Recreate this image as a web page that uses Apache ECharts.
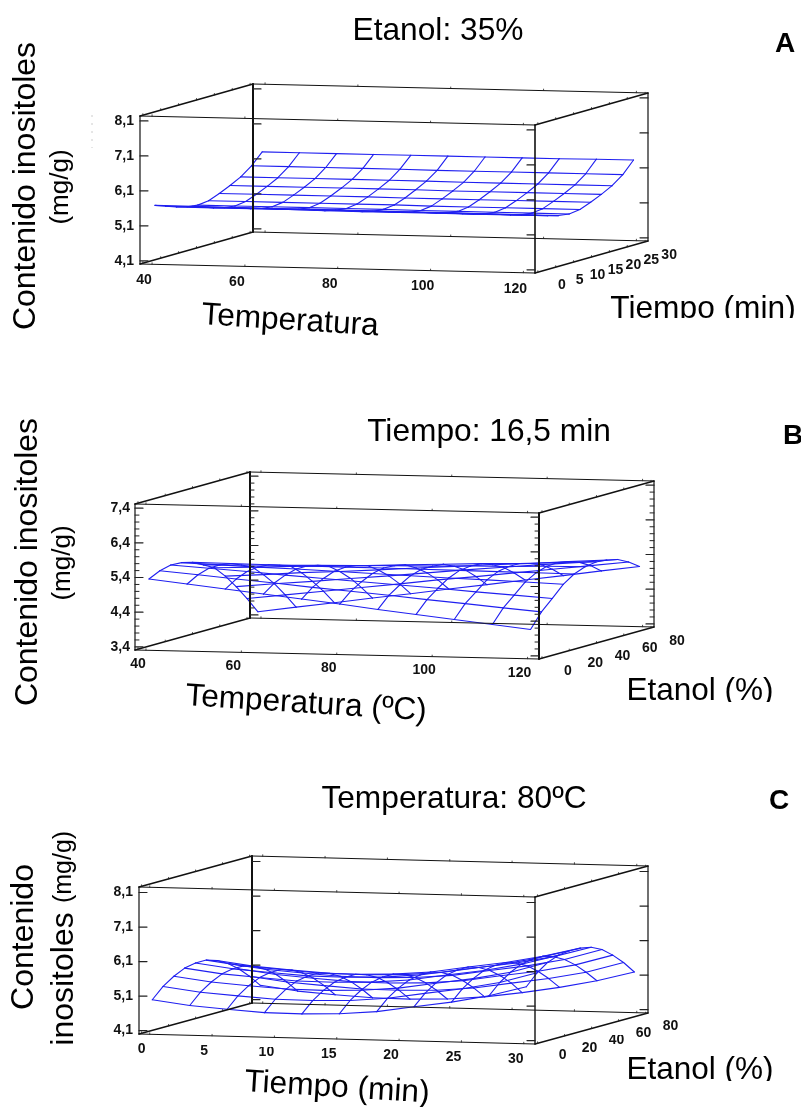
<!DOCTYPE html>
<html>
<head>
<meta charset="utf-8">
<style>html,body{margin:0;padding:0;background:#fff}#c{width:801px;height:1107px}</style>
<script src="https://cdn.jsdelivr.net/npm/echarts@6/dist/echarts.min.js"></script>
</head>
<body>
<div id="c"></div>
<script>
// ---------- data ----------
const tempNodes = [40,48,56,64,72,80,88,96,104,112,120];
const timeNodes = [0,3,6,9,12,15,18,21,24,27,30];
const etanolNodes = [0,8,16,24,32,40,48,56,64,72,80];

const tempTicks = [40,60,80,100,120];
const timeTicksA = [0,5,10,15,20,25,30];
const timeTicksC = [0,5,10,15,20,25,30];
const etanolTicks = [0,20,40,60,80];
const zTicksA = [4.1,5.1,6.1,7.1,8.1];
const zTicksB = [3.4,4.4,5.4,6.4,7.4];
const zTicksC = [4.1,5.1,6.1,7.1,8.1];
const zMinorB = [3.6,3.8,4.0,4.2,4.6,4.8,5.0,5.2,5.6,5.8,6.0,6.2,6.6,6.8,7.0,7.2];

// rows: depth axis (tiempo / etanol), columns: horizontal axis
const surfaceA = [
[5.67,5.67,5.66,5.66,5.66,5.66,5.65,5.65,5.65,5.64,5.64],
[5.56,5.56,5.56,5.55,5.55,5.55,5.55,5.55,5.54,5.54,5.54],
[5.45,5.45,5.45,5.45,5.44,5.44,5.44,5.44,5.44,5.44,5.44],
[5.37,5.37,5.37,5.37,5.37,5.36,5.36,5.36,5.36,5.36,5.36],
[5.33,5.33,5.33,5.33,5.33,5.33,5.32,5.32,5.32,5.32,5.32],
[5.37,5.37,5.37,5.37,5.37,5.37,5.36,5.36,5.36,5.36,5.36],
[5.49,5.49,5.49,5.49,5.49,5.48,5.48,5.48,5.48,5.48,5.48],
[5.63,5.63,5.63,5.63,5.63,5.63,5.62,5.62,5.62,5.62,5.62],
[5.79,5.79,5.79,5.79,5.79,5.79,5.78,5.78,5.78,5.78,5.78],
[6.02,6.02,6.02,6.02,6.02,6.01,6.01,6.01,6.01,6.01,6.01],
[6.33,6.33,6.33,6.33,6.33,6.33,6.33,6.33,6.33,6.34,6.34]
];
const surfaceB = [
[5.34,5.22,5.10,4.98,4.86,4.74,4.61,4.49,4.37,4.25,4.13],
[5.49,5.40,5.30,5.21,5.11,5.02,4.93,4.83,4.74,4.64,4.55],
[5.57,5.50,5.43,5.35,5.28,5.21,5.14,5.07,4.99,4.92,4.85],
[5.55,5.51,5.47,5.44,5.40,5.36,5.32,5.28,5.25,5.21,5.17],
[5.47,5.46,5.45,5.44,5.43,5.43,5.42,5.41,5.40,5.39,5.38],
[5.31,5.33,5.35,5.37,5.39,5.41,5.42,5.45,5.46,5.49,5.50],
[5.14,5.18,5.23,5.26,5.30,5.35,5.39,5.43,5.46,5.51,5.55],
[4.81,4.88,4.96,5.02,5.09,5.17,5.24,5.31,5.37,5.45,5.52],
[4.42,4.53,4.62,4.73,4.83,4.94,5.05,5.15,5.25,5.34,5.45],
[3.99,4.12,4.25,4.38,4.51,4.65,4.77,4.90,5.03,5.16,5.29],
[3.52,3.68,3.83,3.99,4.14,4.30,4.45,4.61,4.76,4.92,5.07]
];
const surfaceC = [
[4.98,4.84,4.76,4.69,4.68,4.71,4.80,4.97,5.13,5.34,5.63],
[5.28,5.14,5.06,4.99,4.98,5.01,5.10,5.27,5.43,5.64,5.95],
[5.49,5.35,5.27,5.20,5.19,5.22,5.31,5.48,5.64,5.85,6.17],
[5.64,5.50,5.42,5.35,5.34,5.37,5.46,5.63,5.79,6.00,6.29],
[5.70,5.56,5.48,5.41,5.40,5.43,5.52,5.69,5.85,6.06,6.33],
[5.70,5.56,5.48,5.41,5.40,5.43,5.52,5.69,5.85,6.06,6.32],
[5.60,5.46,5.38,5.31,5.30,5.33,5.42,5.59,5.75,5.96,6.26],
[5.43,5.29,5.21,5.14,5.13,5.16,5.25,5.42,5.58,5.79,6.11],
[5.19,5.05,4.97,4.90,4.89,4.92,5.01,5.18,5.34,5.55,5.86],
[4.89,4.75,4.67,4.60,4.59,4.62,4.71,4.88,5.04,5.25,5.56],
[4.54,4.40,4.32,4.26,4.25,4.28,4.37,4.52,4.70,4.92,5.20]
];

// ---------- panel set-up ----------
const FONT = '"Liberation Sans", Arial, sans-serif';
const BLUE = '#1f1ff0';
const panels = [
 {left:140,top:116,width:395,height:148,slope:9,depth:[113,-32],
  xRange:[37.4,122.5],dRange:[-0.8,30.8],zRange:[4.01,8.24],
  xNodes:tempNodes,dNodes:timeNodes,grid:surfaceA,
  xTicks:tempTicks,dTicks:timeTicksA,zTicks:zTicksA,zMinor:[],
  xOff:[-8,16],dOff:[24,13],labelMargin:6,rightW:1.6},
 {left:135,top:504,width:404,height:146,slope:9,depth:[115,-32],
  xRange:[37.7,122.4],dRange:[-2.2,82.2],zRange:[3.31,7.52],
  xNodes:tempNodes,dNodes:etanolNodes,grid:surfaceB,
  xTicks:tempTicks,dTicks:etanolTicks,zTicks:zTicksB,zMinor:zMinorB,
  xOff:[-8,14],dOff:[26,13],labelMargin:5,rightW:2},
 {left:139,top:887,width:396,height:147,slope:10,depth:[113,-31],
  xRange:[-0.86,30.9],dRange:[-1.9,81.8],zRange:[4.0,8.26],
  xNodes:timeNodes,dNodes:etanolNodes,grid:surfaceC,
  xTicks:timeTicksC,dTicks:etanolTicks,zTicks:zTicksC,zMinor:[],
  xOff:[-8,15],dOff:[25,12],labelMargin:6,rightW:1.4}
];

function project(api,p,x,z,d){
  const pt = api.coord([x,z]);
  const u = (x-p.xRange[0])/(p.xRange[1]-p.xRange[0]);
  const v = (d-p.dRange[0])/(p.dRange[1]-p.dRange[0]);
  return [pt[0]+v*p.depth[0], pt[1]+u*p.slope+v*p.depth[1]];
}
function seg(a,b,color,w){
  return {type:'polyline',shape:{points:[a,b]},style:{stroke:color,lineWidth:w,fill:null,lineCap:'round'},silent:true};
}

const grids=[],xAxes=[],yAxes=[],series=[];
panels.forEach(function(p,i){
  grids.push({left:p.left,top:p.top,width:p.width,height:p.height,containLabel:false});
  xAxes.push({gridIndex:i,type:'value',min:p.xRange[0],max:p.xRange[1],show:false});
  yAxes.push({gridIndex:i,type:'value',min:p.zRange[0],max:p.zRange[1],
    axisLine:{show:false},axisTick:{show:false},splitLine:{show:false},
    axisLabel:{show:true,customValues:p.zTicks,margin:p.labelMargin,color:'#111',
      fontFamily:FONT,fontWeight:'bold',fontSize:14,
      formatter:function(v){return Number(v).toFixed(1).replace('.',',');}}});

  // surface wireframe: one data item per node
  const nodes=[];
  p.grid.forEach(function(row,r){row.forEach(function(z,c){nodes.push([p.xNodes[c],z,p.dNodes[r],r,c]);});});
  series.push({type:'custom',name:'Superficie '+'ABC'[i],xAxisIndex:i,yAxisIndex:i,clip:false,silent:true,z:3,
    encode:{x:0,y:1},data:nodes,animation:false,
    renderItem:function(params,api){
      const r=api.value(3),c=api.value(4);
      const a=project(api,p,api.value(0),api.value(1),api.value(2));
      const kids=[];
      if(c<p.xNodes.length-1) kids.push(seg(a,project(api,p,p.xNodes[c+1],p.grid[r][c+1],p.dNodes[r]),BLUE,1.1));
      if(r<p.dNodes.length-1) kids.push(seg(a,project(api,p,p.xNodes[c],p.grid[r+1][c],p.dNodes[r+1]),BLUE,1.1));
      return {type:'group',children:kids};
    }});

  // box edges
  const X=p.xRange,D=p.dRange,Z=p.zRange;
  const edges=[
   [X[0],Z[0],D[0],X[1],Z[0],D[0],1.2],[X[0],Z[1],D[0],X[1],Z[1],D[0],1.2],
   [X[0],Z[0],D[1],X[1],Z[0],D[1],1],[X[0],Z[1],D[1],X[1],Z[1],D[1],1],
   [X[0],Z[0],D[0],X[0],Z[1],D[0],1.2],[X[1],Z[0],D[0],X[1],Z[1],D[0],p.rightW],
   [X[0],Z[0],D[1],X[0],Z[1],D[1],2],[X[1],Z[0],D[1],X[1],Z[1],D[1],1.2],
   [X[0],Z[0],D[0],X[0],Z[0],D[1],1.4],[X[1],Z[0],D[0],X[1],Z[0],D[1],1.4],
   [X[0],Z[1],D[0],X[0],Z[1],D[1],1.6],[X[1],Z[1],D[0],X[1],Z[1],D[1],1.6]
  ];
  series.push({type:'custom',xAxisIndex:i,yAxisIndex:i,clip:false,silent:true,z:4,animation:false,
    encode:{x:[0,3],y:[1,4]},data:edges,
    renderItem:function(params,api){
      return seg(project(api,p,api.value(0),api.value(1),api.value(2)),
                 project(api,p,api.value(3),api.value(4),api.value(5)),'#111',api.value(6));
    }});

  // tick marks: kind 0 = z major, 1 = z minor, 2 = x, 3 = depth
  const ticks=[];
  p.zTicks.forEach(function(z){ticks.push([X[0],z,D[0],0]);});
  p.zMinor.forEach(function(z){ticks.push([X[0],z,D[0],1]);});
  p.xTicks.forEach(function(x){ticks.push([x,Z[0],D[0],2]);});
  p.dTicks.forEach(function(d){ticks.push([X[0],Z[0],d,3]);});
  series.push({type:'custom',xAxisIndex:i,yAxisIndex:i,clip:false,silent:true,z:4,animation:false,
    encode:{x:0,y:1},data:ticks,
    renderItem:function(params,api){
      const v0=api.value(0),v1=api.value(1),v2=api.value(2),k=api.value(3);
      const kids=[];
      function t(a,dx,dy,w){kids.push(seg(a,[a[0]+dx,a[1]+dy],'#222',w));}
      if(k<2){
        const L=k===0?8:4,w=k===0?1.2:1;
        t(project(api,p,X[0],v1,D[0]),L,0,w);
        t(project(api,p,X[0],v1,D[1]),L,0,w);
        t(project(api,p,X[1],v1,D[0]),-L,0,w);
        t(project(api,p,X[1],v1,D[1]),-L,0,w);
      } else if(k===2){
        [Z[0],Z[1]].forEach(function(z){[D[0],D[1]].forEach(function(d){
          t(project(api,p,v0,z,d),0,-1.5,0.8);});});
      } else {
        [X[0],X[1]].forEach(function(x){[Z[0],Z[1]].forEach(function(z){
          t(project(api,p,x,z,v2),0,-1.5,0.8);});});
      }
      return {type:'group',children:kids};
    }});

  // tick labels on the skewed floor axes
  const labels=[];
  p.xTicks.forEach(function(x){labels.push([x,Z[0],D[0],0]);});
  p.dTicks.forEach(function(d){labels.push([X[1],Z[0],d,1]);});
  series.push({type:'custom',xAxisIndex:i,yAxisIndex:i,clip:false,silent:true,z:4,animation:false,
    encode:{x:0,y:1},data:labels,
    renderItem:function(params,api){
      const k=api.value(3),a=project(api,p,api.value(0),api.value(1),api.value(2));
      const off=k===0?p.xOff:p.dOff;
      return {type:'text',silent:true,style:{
        text:String(k===0?api.value(0):api.value(2)),
        x:a[0]+off[0],y:a[1]+off[1],
        font:'bold 14px '+FONT,fill:'#111',
        align:'center',verticalAlign:'middle',textAlign:'center',textVerticalAlign:'middle'}};
    }});
});

// ---------- free text ----------
function txt(s,x,y,size,opt){
  opt=opt||{};
  return {type:'text',x:x,y:y,rotation:opt.rot||0,z:10,silent:true,
    style:{text:s,font:(opt.bold?'bold ':'')+size+'px '+FONT,fill:'#000',
      align:'center',verticalAlign:'middle',textAlign:'center',textVerticalAlign:'middle'}};
}
function mask(x,y,w,h){return {type:'rect',z:20,silent:true,shape:{x:x,y:y,width:w,height:h},style:{fill:'#fff'}};}
const V=Math.PI/2, TILT=-0.063;
const graphics=[
 txt('Etanol: 35%',438,31,31.7),
 txt('A',785,44,28,{bold:true}),
 txt('Contenido inositoles',26,186,32,{rot:V}),
 txt('(mg/g)',61,187,26,{rot:V}),
 txt('Temperatura',290,321,31.6,{rot:TILT}),
 txt('Tiempo (min)',703,309,31.7),
 mask(600,318,201,30),

 txt('Tiempo: 16,5 min',489,432,31.7),
 txt('B',793,436,28,{bold:true}),
 txt('Contenido inositoles',28,562,32,{rot:V}),
 txt('(mg/g)',63,563,26,{rot:V}),
 txt('Temperatura (ºC)',306,704,31.6,{rot:TILT}),
 txt('Etanol (%)',700,691,31.5),
 mask(600,702,201,30),

 txt('Temperatura: 80ºC',454,799,31.7),
 txt('C',779,801,28,{bold:true}),
 txt('Contenido',24,937,32,{rot:V}),
 txt('inositoles',64,979,32,{rot:V}),
 txt('(mg/g)',64,867,25,{rot:V}),
 txt('Tiempo (min)',337,1088,31.7,{rot:TILT}),
 txt('Etanol (%)',700,1070,31.5),
 mask(600,1081,201,26),
 mask(252,1040,32,7),
 mask(604,1028,28,7),
 {type:'line',z:1,silent:true,shape:{x1:92,y1:115,x2:92,y2:148},style:{stroke:'#ccc',lineWidth:1,lineDash:[2,6]}}
];

const chart=echarts.init(document.getElementById('c'),null,{renderer:'canvas',width:801,height:1107});
chart.setOption({animation:false,backgroundColor:'#fff',grid:grids,xAxis:xAxes,yAxis:yAxes,series:series,graphic:{elements:graphics}});
</script>
</body>
</html>
